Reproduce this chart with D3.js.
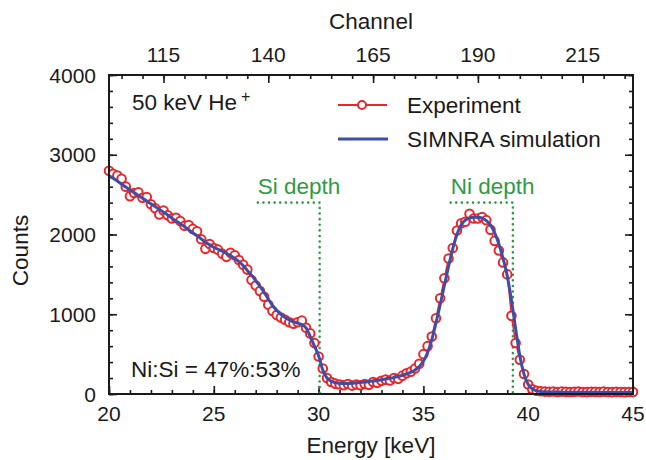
<!DOCTYPE html>
<html>
<head>
<meta charset="utf-8">
<script src="https://cdn.jsdelivr.net/npm/d3@7"></script>
<style>
  body { margin: 0; background: #fff; }
  text { font-family: "Liberation Sans", Arial, sans-serif; fill: #1a1a1a; }
</style>
</head>
<body>
<svg id="chart"></svg>
<script>
// Energy of each channel [keV]
const energy = [
  20.0, 20.2, 20.4, 20.6, 20.8, 21.0, 21.2, 21.4, 21.6, 21.8,
  22.0, 22.2, 22.4, 22.6, 22.8, 23.0, 23.2, 23.4, 23.6, 23.8,
  24.0, 24.2, 24.4, 24.6, 24.8, 25.0, 25.2, 25.4, 25.6, 25.8,
  26.0, 26.2, 26.4, 26.6, 26.8, 27.0, 27.2, 27.4, 27.6, 27.8,
  28.0, 28.2, 28.4, 28.6, 28.8, 29.0, 29.2, 29.4, 29.6, 29.8,
  30.0, 30.2, 30.4, 30.6, 30.8, 31.0, 31.2, 31.4, 31.6, 31.8,
  32.0, 32.2, 32.4, 32.6, 32.8, 33.0, 33.2, 33.4, 33.6, 33.8,
  34.0, 34.2, 34.4, 34.6, 34.8, 35.0, 35.2, 35.4, 35.6, 35.8,
  36.0, 36.2, 36.4, 36.6, 36.8, 37.0, 37.2, 37.4, 37.6, 37.8,
  38.0, 38.2, 38.4, 38.6, 38.8, 39.0, 39.2, 39.4, 39.6, 39.8,
  40.0, 40.2, 40.4, 40.6, 40.8, 41.0, 41.2, 41.4, 41.6, 41.8,
  42.0, 42.2, 42.4, 42.6, 42.8, 43.0, 43.2, 43.4, 43.6, 43.8,
  44.0, 44.2, 44.4, 44.6, 44.8, 45.0
];

// Experiment counts
const experiment = [
  2800, 2760, 2740, 2700, 2600, 2480, 2520, 2530, 2460, 2470,
  2380, 2330, 2250, 2300, 2240, 2200, 2210, 2170, 2110, 2120,
  2070, 2040, 1940, 1820, 1880, 1830, 1810, 1760, 1720, 1770,
  1740, 1680, 1620, 1560, 1430, 1360, 1290, 1220, 1120, 1040,
  990, 960, 930, 900, 880, 900, 920, 830, 760, 640,
  470, 320, 200, 150, 130, 120, 110, 125, 105, 120,
  110, 125, 115, 150, 140, 165, 180, 170, 200, 190,
  230, 260, 280, 320, 380, 500, 600, 720, 950, 1200,
  1450, 1700, 1830, 2050, 2140, 2160, 2260, 2200, 2200, 2220,
  2180, 2060, 1920, 1800, 1650, 1500, 980, 640, 430, 250,
  120, 60, 40, 35, 30, 28, 32, 26, 30, 27,
  25, 29, 31, 26, 24, 28, 27, 25, 30, 26,
  24, 27, 25, 23, 26, 24
];

// SIMNRA simulation counts
const simulation = [
  2740, 2705, 2670, 2630, 2595, 2560, 2525, 2490, 2455, 2420,
  2385, 2350, 2315, 2280, 2245, 2205, 2170, 2135, 2100, 2060,
  2020, 1985, 1945, 1905, 1870, 1840, 1815, 1790, 1765, 1735,
  1700, 1660, 1610, 1550, 1490, 1420, 1350, 1275, 1190, 1110,
  1050, 1000, 960, 930, 905, 890, 870, 830, 720, 600,
  480, 300, 200, 160, 142, 135, 132, 132, 135, 140,
  145, 150, 155, 162, 170, 178, 187, 197, 208, 220,
  235, 252, 272, 300, 345, 410, 520, 680, 890, 1120,
  1360, 1600, 1820, 2000, 2120, 2180, 2205, 2215, 2215, 2205,
  2175, 2120, 2020, 1880, 1700, 1480, 1180, 820, 480, 250,
  120, 65, 40, 32, 28, 26, 25, 24, 24, 23,
  23, 22, 22, 22, 21, 21, 21, 20, 20, 20,
  20, 19, 19, 19, 19, 18
];

// Axis ticks
const energyTicks = [20, 25, 30, 35, 40, 45];
const channelTicks = [115, 140, 165, 190, 215];
const countTicks = [0, 1000, 2000, 3000, 4000];

// Depth markers: [label, start energy, edge energy, level]
const siDepth = ["Si depth", 27.1, 30.05, 2400];
const niDepth = ["Ni depth", 36.3, 39.27, 2400];

const width = 646;
const height = 460;
const margin = { top: 75, right: 13, bottom: 66, left: 109 };
const w = width - margin.left - margin.right;
const h = height - margin.top - margin.bottom;

const red = "#e8262b";
const blue = "#3c4ea6";
const green = "#2f9a45";

const svg = d3.select("#chart").attr("width", width).attr("height", height);
const g = svg.append("g").attr("transform", `translate(${margin.left},${margin.top})`);

const x = d3.scaleLinear().domain([20, 45]).range([0, w]);
const y = d3.scaleLinear().domain([0, 4000]).range([h, 0]);
// channel = 5 * E + 2
const xc = d3.scaleLinear().domain([102, 227]).range([0, w]);

// axes, ticks pointing inward
function drawAxis(axis, transform) {
  const a = g.append("g").attr("transform", transform).call(axis);
  a.select(".domain").remove();
  a.selectAll("line").attr("stroke", "#1a1a1a").attr("stroke-width", 1.6);
  return a;
}

drawAxis(d3.axisTop(x).tickValues(d3.range(20, 46, 1)).tickSize(4).tickFormat(""), `translate(0,${h})`);
drawAxis(d3.axisTop(x).tickValues(energyTicks).tickSize(8).tickFormat(""), `translate(0,${h})`);
drawAxis(d3.axisBottom(xc).tickValues(d3.range(105, 227, 5)).tickSize(4).tickFormat(""), "translate(0,0)");
drawAxis(d3.axisBottom(xc).tickValues(channelTicks).tickSize(8).tickFormat(""), "translate(0,0)");
drawAxis(d3.axisRight(y).tickValues(d3.range(0, 4001, 200)).tickSize(4).tickFormat(""), "translate(0,0)");
drawAxis(d3.axisRight(y).tickValues(countTicks).tickSize(8).tickFormat(""), "translate(0,0)");
drawAxis(d3.axisLeft(y).tickValues(d3.range(0, 4001, 200)).tickSize(4).tickFormat(""), `translate(${w},0)`);
drawAxis(d3.axisLeft(y).tickValues(countTicks).tickSize(8).tickFormat(""), `translate(${w},0)`);

// tick labels
g.selectAll(".xlab").data(energyTicks).enter().append("text")
  .attr("x", (d) => x(d)).attr("y", h + 27)
  .attr("text-anchor", "middle").style("font-size", "21px").text((d) => d);

g.selectAll(".clab").data(channelTicks).enter().append("text")
  .attr("x", (d) => xc(d)).attr("y", -13)
  .attr("text-anchor", "middle").style("font-size", "21px").text((d) => d);

g.selectAll(".ylab").data(countTicks).enter().append("text")
  .attr("x", -13).attr("y", (d) => y(d)).attr("dy", "0.36em")
  .attr("text-anchor", "end").style("font-size", "21px").text((d) => d);

// axis titles
g.append("text").attr("x", w / 2).attr("y", h + 59)
  .attr("text-anchor", "middle").style("font-size", "22.5px").text("Energy [keV]");
g.append("text").attr("x", w / 2).attr("y", -46)
  .attr("text-anchor", "middle").style("font-size", "22.5px").text("Channel");
g.append("text").attr("transform", `translate(-81,${h / 2 + 16}) rotate(-90)`)
  .attr("text-anchor", "middle").style("font-size", "22.5px").text("Counts");

// depth markers
[siDepth, niDepth].forEach((m) => {
  g.append("path")
    .attr("d", `M${x(m[1])},${y(m[3])}H${x(m[2])}V${h}`)
    .attr("fill", "none").attr("stroke", green).attr("stroke-width", 2.6)
    .attr("stroke-dasharray", "0 5.6").attr("stroke-linecap", "round");
  g.append("text").attr("x", x(m[1])).attr("y", y(m[3]) - 9)
    .style("font-size", "22.5px").style("fill", green).text(m[0]);
});

const pts = energy.map((e, i) => ({ e, exp: experiment[i], sim: simulation[i] }));

// experiment
g.append("path").datum(pts)
  .attr("fill", "none").attr("stroke", red).attr("stroke-width", 1.5)
  .attr("d", d3.line().x((d) => x(d.e)).y((d) => y(d.exp)));

g.selectAll(".dot").data(pts).enter().append("circle")
  .attr("cx", (d) => x(d.e)).attr("cy", (d) => y(d.exp)).attr("r", 4.3)
  .attr("fill", "#fff").attr("stroke", red).attr("stroke-width", 2);

// simulation
g.append("path").datum(pts)
  .attr("fill", "none").attr("stroke", blue).attr("stroke-width", 3)
  .attr("d", d3.line().curve(d3.curveMonotoneX).x((d) => x(d.e)).y((d) => y(d.sim)));

// frame
g.append("rect").attr("width", w).attr("height", h)
  .attr("fill", "none").attr("stroke", "#1a1a1a").attr("stroke-width", 2);

// legend
const lg = svg.append("g").attr("transform", "translate(338,0)");
lg.append("line").attr("x1", 0).attr("x2", 49).attr("y1", 105).attr("y2", 105)
  .attr("stroke", red).attr("stroke-width", 2);
lg.append("circle").attr("cx", 24).attr("cy", 105).attr("r", 4)
  .attr("fill", "#fff").attr("stroke", red).attr("stroke-width", 2);
lg.append("text").attr("x", 69).attr("y", 113).style("font-size", "22.5px").text("Experiment");
lg.append("line").attr("x1", 0).attr("x2", 50).attr("y1", 139).attr("y2", 139)
  .attr("stroke", blue).attr("stroke-width", 3);
lg.append("text").attr("x", 69).attr("y", 147).style("font-size", "22.5px").text("SIMNRA simulation");

// annotations
const beam = svg.append("text").attr("x", 132).attr("y", 110).style("font-size", "22.5px");
beam.append("tspan").text("50 keV He");
beam.append("tspan").attr("dx", 4).attr("dy", -8).style("font-size", "16px").text("+");

svg.append("text").attr("x", 131).attr("y", 377).style("font-size", "22.5px").text("Ni:Si = 47%:53%");
</script>
</body>
</html>
